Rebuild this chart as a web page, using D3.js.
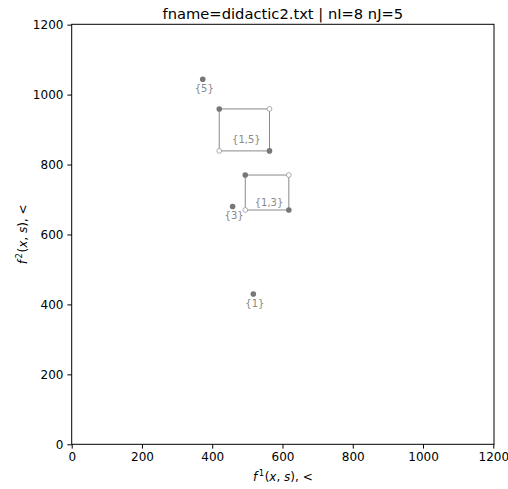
<!DOCTYPE html>
<html>
<head>
    <meta charset="utf-8">
    <title>didactic2</title>
    <script src="https://d3js.org/d3.v7.min.js"></script>
    <style type="text/css">
        body {
            margin: 0;
            background: #fff;
        }

        .axis text {
            font-family: "DejaVu Sans", sans-serif;
            font-size: 12px;
            fill: #000;
        }

        .axis path,
        .axis line {
            stroke: #000;
            stroke-width: 1;
        }
    </style>
</head>
<body>
    <div id="chart"></div>

    <script type="text/javascript">
        // single points: label, f1, f2
        var pointLabels = ["{5}", "{3}", "{1}"];
        var pointF1 = [373, 458, 517];
        var pointF2 = [1044, 680, 430];

        // boxes: label, f1 range, f2 range
        var boxLabels = ["{1,5}", "{1,3}"];
        var boxF1Lo = [420, 494];
        var boxF1Hi = [563, 618];
        var boxF2Lo = [839, 670];
        var boxF2Hi = [959, 770];

        var tickValues = [0, 200, 400, 600, 800, 1000, 1200];

        var w = 508;
        var h = 489;
        var padL = 71.7, padR = 494, padT = 24.3, padB = 444.3;
        var grey = "#777777";

        var xScale = d3.scaleLinear()
            .domain([0, 1202])
            .range([padL, padR]);
        var yScale = d3.scaleLinear()
            .domain([0, 1201])
            .range([padB, padT]);

        var svg = d3.select("#chart")
            .append("svg")
            .attr("width", w)
            .attr("height", h);

        // frame
        svg.append("rect")
            .attr("x", padL)
            .attr("y", padT)
            .attr("width", padR - padL)
            .attr("height", padB - padT)
            .attr("fill", "none")
            .attr("stroke", "#000")
            .attr("stroke-width", 1);

        var xAxis = d3.axisBottom(xScale)
            .tickValues(tickValues)
            .tickFormat(d3.format("d"))
            .tickSize(4.3)
            .tickPadding(4)
            .tickSizeOuter(0);
        var yAxis = d3.axisLeft(yScale)
            .tickValues(tickValues)
            .tickFormat(d3.format("d"))
            .tickSize(4.3)
            .tickPadding(4)
            .tickSizeOuter(0);

        svg.append("g")
            .attr("class", "x axis")
            .attr("transform", "translate(0," + padB + ")")
            .call(xAxis);
        svg.append("g")
            .attr("class", "y axis")
            .attr("transform", "translate(" + padL + ",0)")
            .call(yAxis);
        svg.selectAll(".axis .domain").remove();

        // boxes
        boxLabels.forEach(function (lab, i) {
            var x0 = xScale(boxF1Lo[i]), x1 = xScale(boxF1Hi[i]);
            var y0 = yScale(boxF2Lo[i]), y1 = yScale(boxF2Hi[i]);
            svg.append("rect")
                .attr("x", x0)
                .attr("y", y1)
                .attr("width", x1 - x0)
                .attr("height", y0 - y1)
                .attr("fill", "none")
                .attr("stroke", "#8a8a8a")
                .attr("stroke-width", 1);
            // hollow corners
            [[x1, y1], [x0, y0]].forEach(function (p) {
                svg.append("circle")
                    .attr("cx", p[0]).attr("cy", p[1]).attr("r", 2.4)
                    .attr("fill", "#fff")
                    .attr("stroke", "#999")
                    .attr("stroke-width", 0.8);
            });
            // filled corners
            [[x0, y1], [x1, y0]].forEach(function (p) {
                svg.append("circle")
                    .attr("cx", p[0]).attr("cy", p[1]).attr("r", 2.8)
                    .attr("fill", grey);
            });
            svg.append("text")
                .attr("x", (x0 + x1) / 2 + 2)
                .attr("y", (y0 + y1) / 2 + 13)
                .attr("text-anchor", "middle")
                .attr("font-family", "DejaVu Sans, sans-serif")
                .attr("font-size", "10px")
                .attr("fill", "#888")
                .text(lab);
        });

        // single points
        svg.selectAll("circle.pt")
            .data(pointLabels)
            .enter()
            .append("circle")
            .attr("class", "pt")
            .attr("cx", function (d, i) { return xScale(pointF1[i]); })
            .attr("cy", function (d, i) { return yScale(pointF2[i]); })
            .attr("r", 2.8)
            .attr("fill", grey);

        svg.selectAll("text.pl")
            .data(pointLabels)
            .enter()
            .append("text")
            .attr("class", "pl")
            .attr("x", function (d, i) { return xScale(pointF1[i]) + 1.5; })
            .attr("y", function (d, i) { return yScale(pointF2[i]) + 13; })
            .attr("text-anchor", "middle")
            .attr("font-family", "DejaVu Sans, sans-serif")
            .attr("font-size", "10px")
            .attr("fill", "#888")
            .text(function (d) { return d; });

        // title
        svg.append("text")
            .attr("x", (padL + padR) / 2)
            .attr("y", 18.5)
            .attr("text-anchor", "middle")
            .attr("font-family", "DejaVu Sans, sans-serif")
            .attr("font-size", "14.7px")
            .attr("fill", "#000")
            .text("fname=didactic2.txt | nI=8 nJ=5");

        // axis labels
        function axisLabel(g, sup) {
            g.attr("font-family", "DejaVu Sans, sans-serif")
                .attr("font-size", "12px")
                .attr("fill", "#000")
                .attr("text-anchor", "middle");
            g.append("tspan").attr("font-style", "italic").text("f");
            g.append("tspan").attr("font-size", "8.5px").attr("dx", 1.5).attr("dy", -5).text(sup);
            g.append("tspan").attr("dx", 0.5).attr("dy", 5).text("(");
            g.append("tspan").attr("font-style", "italic").text("x");
            g.append("tspan").text(", ");
            g.append("tspan").attr("font-style", "italic").text("s");
            g.append("tspan").text("), <");
        }

        svg.append("text")
            .attr("x", (padL + padR) / 2)
            .attr("y", 481)
            .call(axisLabel, "1");

        svg.append("text")
            .attr("transform", "translate(27," + (padT + padB) / 2 + ") rotate(-90)")
            .call(axisLabel, "2");
    </script>
</body>
</html>
